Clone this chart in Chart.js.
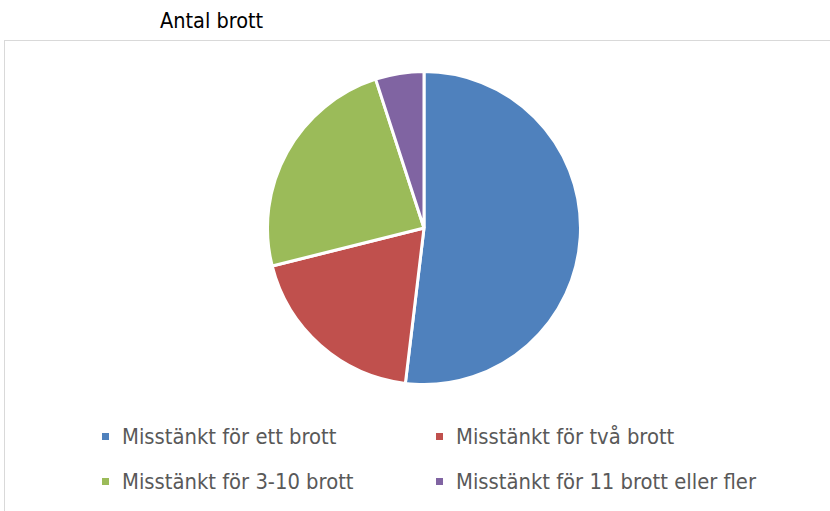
<!DOCTYPE html>
<html>
<head>
<meta charset="utf-8">
<script src="https://cdn.jsdelivr.net/npm/chart.js@4.4.0/dist/chart.umd.min.js"></script>
<style>
  body { margin: 0; background: #fff; width: 830px; height: 511px; overflow: hidden; position: relative; }
  #frame { position: absolute; left: 4px; top: 40px; width: 830px; height: 480px;
           border-left: 1px solid #d9d9d9; border-top: 1px solid #d9d9d9; }
  #title { position: absolute; left: 160px; top: 8px; font: 21.5px "Liberation Sans Narrow", "DejaVu Sans Condensed", sans-serif; color: #000; }
  #wrap { position: absolute; left: 266px; top: 70px; width: 316px; height: 316px; }
  #legend { position: absolute; left: 102px; top: 424px; font: 21.8px "Liberation Sans Narrow", "DejaVu Sans Condensed", sans-serif; color: #595959; }
  .item { position: absolute; white-space: nowrap; }
  .box { display: inline-block; width: 7px; height: 7px; margin-right: 13px; vertical-align: middle; position: relative; top: -2px; }
</style>
</head>
<body>
<div id="frame"></div>
<div id="title">Antal brott</div>
<div id="wrap"><canvas id="pie"></canvas></div>
<div id="legend"></div>
<script>
'use strict';

var categories = ['Misstänkt för ett brott', 'Misstänkt för två brott', 'Misstänkt för 3-10 brott', 'Misstänkt för 11 brott eller fler'];
var shares = [51.9, 19.2, 23.9, 5.0];
var colors = ['#4F81BD', '#C0504D', '#9BBB59', '#8064A2'];

var ctx = document.getElementById('pie');
var chart = new Chart(ctx, {
  type: 'pie',
  data: {
    labels: categories,
    datasets: [{
      data: shares,
      backgroundColor: colors,
      borderColor: '#ffffff',
      borderWidth: 3
    }]
  },
  options: {
    responsive: true,
    maintainAspectRatio: false,
    animation: false,
    layout: { padding: 0 },
    plugins: {
      legend: { display: false },
      tooltip: { enabled: false }
    }
  }
});

// legend in two columns, like the original
var legend = document.getElementById('legend');
var items = chart.options.plugins.legend.labels.generateLabels(chart);
items.forEach(function (it, i) {
  var el = document.createElement('div');
  el.className = 'item';
  el.style.left = (i % 2) * 334 + 'px';
  el.style.top = Math.floor(i / 2) * 45 + 'px';
  var box = document.createElement('span');
  box.className = 'box';
  box.style.background = it.fillStyle;
  el.appendChild(box);
  el.appendChild(document.createTextNode(it.text));
  legend.appendChild(el);
});
</script>
</body>
</html>
